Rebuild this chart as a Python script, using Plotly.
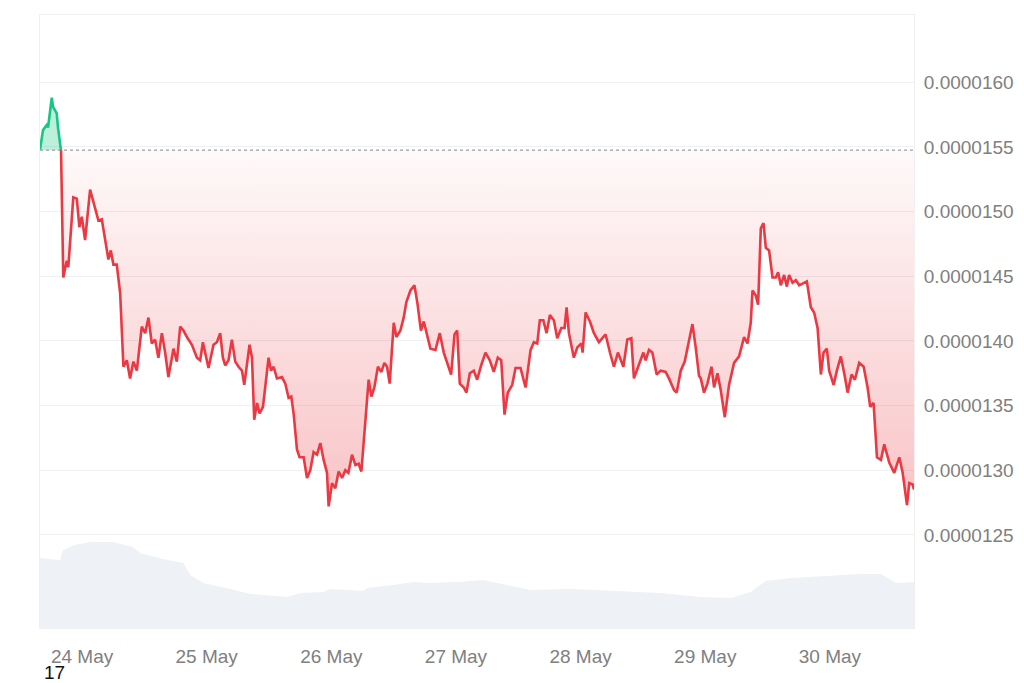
import plotly.graph_objects as go
import pandas as pd

# ---------------- data ----------------
times = [
    "2024-05-23 15:54", "2024-05-23 16:29", "2024-05-23 17:12", "2024-05-23 17:27", "2024-05-23 18:10",
    "2024-05-23 18:25", "2024-05-23 19:07", "2024-05-23 19:22", "2024-05-23 19:57", "2024-05-23 20:23",
    "2024-05-23 21:03", "2024-05-23 21:21", "2024-05-23 22:19", "2024-05-23 22:59", "2024-05-23 23:29",
    "2024-05-23 23:57", "2024-05-24 00:35", "2024-05-24 01:33", "2024-05-24 02:11", "2024-05-24 03:09",
    "2024-05-24 03:48", "2024-05-24 04:26", "2024-05-24 05:04", "2024-05-24 05:32", "2024-05-24 06:02",
    "2024-05-24 06:41", "2024-05-24 07:20", "2024-05-24 07:58", "2024-05-24 08:37", "2024-05-24 09:15",
    "2024-05-24 09:53", "2024-05-24 10:33", "2024-05-24 11:30", "2024-05-24 12:09", "2024-05-24 12:47",
    "2024-05-24 13:26", "2024-05-24 14:04", "2024-05-24 14:42", "2024-05-24 15:22", "2024-05-24 16:00",
    "2024-05-24 16:38", "2024-05-24 17:36", "2024-05-24 18:15", "2024-05-24 18:54", "2024-05-24 19:32",
    "2024-05-24 20:11", "2024-05-24 21:09", "2024-05-24 22:07", "2024-05-24 22:45", "2024-05-24 23:16",
    "2024-05-24 23:43", "2024-05-25 00:21", "2024-05-25 01:19", "2024-05-25 01:58", "2024-05-25 02:36",
    "2024-05-25 03:07", "2024-05-25 03:34", "2024-05-25 04:12", "2024-05-25 04:51", "2024-05-25 05:30",
    "2024-05-25 06:08", "2024-05-25 06:47", "2024-05-25 07:14", "2024-05-25 07:45", "2024-05-25 08:15",
    "2024-05-25 08:43", "2024-05-25 09:09", "2024-05-25 09:41", "2024-05-25 10:11", "2024-05-25 10:50",
    "2024-05-25 11:17", "2024-05-25 11:55", "2024-05-25 12:23", "2024-05-25 12:53", "2024-05-25 13:32",
    "2024-05-25 14:30", "2024-05-25 15:08", "2024-05-25 15:46", "2024-05-25 16:17", "2024-05-25 16:44",
    "2024-05-25 17:23", "2024-05-25 17:53", "2024-05-25 18:40", "2024-05-25 19:19", "2024-05-25 19:57",
    "2024-05-25 20:35", "2024-05-25 21:15", "2024-05-25 21:53", "2024-05-25 22:31", "2024-05-25 23:10",
    "2024-05-25 23:29", "2024-05-26 00:08", "2024-05-26 00:46", "2024-05-26 01:24", "2024-05-26 02:04",
    "2024-05-26 02:42", "2024-05-26 03:17", "2024-05-26 03:59", "2024-05-26 04:38", "2024-05-26 05:16",
    "2024-05-26 05:47", "2024-05-26 06:14", "2024-05-26 06:33", "2024-05-26 07:11", "2024-05-26 07:43",
    "2024-05-26 08:17", "2024-05-26 08:58", "2024-05-26 09:38", "2024-05-26 10:13", "2024-05-26 10:44",
    "2024-05-26 11:14", "2024-05-26 12:01", "2024-05-26 12:32", "2024-05-26 13:18", "2024-05-26 13:56",
    "2024-05-26 14:27", "2024-05-26 15:14", "2024-05-26 16:00", "2024-05-26 16:35", "2024-05-26 17:15",
    "2024-05-26 17:48", "2024-05-26 18:27", "2024-05-26 19:05", "2024-05-26 20:03", "2024-05-26 20:53",
    "2024-05-26 21:39", "2024-05-26 22:18", "2024-05-26 23:04", "2024-05-26 23:43", "2024-05-27 00:14",
    "2024-05-27 00:44", "2024-05-27 01:30", "2024-05-27 02:01", "2024-05-27 02:40", "2024-05-27 03:26",
    "2024-05-27 04:05", "2024-05-27 04:51", "2024-05-27 05:41", "2024-05-27 06:31", "2024-05-27 07:17",
    "2024-05-27 08:03", "2024-05-27 08:43", "2024-05-27 09:21", "2024-05-27 09:59", "2024-05-27 10:50",
    "2024-05-27 11:28", "2024-05-27 12:26", "2024-05-27 13:24", "2024-05-27 14:22", "2024-05-27 15:00",
    "2024-05-27 15:39", "2024-05-27 16:09", "2024-05-27 16:49", "2024-05-27 17:27", "2024-05-27 18:05",
    "2024-05-27 18:51", "2024-05-27 19:30", "2024-05-27 20:17", "2024-05-27 20:55", "2024-05-27 21:18",
    "2024-05-27 21:45", "2024-05-27 22:42", "2024-05-27 23:22", "2024-05-28 00:08", "2024-05-28 00:23",
    "2024-05-28 00:58", "2024-05-28 01:48", "2024-05-28 02:34", "2024-05-28 03:32", "2024-05-28 04:49",
    "2024-05-28 05:39", "2024-05-28 06:25", "2024-05-28 07:11", "2024-05-28 08:14", "2024-05-28 09:00",
    "2024-05-28 09:46", "2024-05-28 10:16", "2024-05-28 11:14", "2024-05-28 12:05", "2024-05-28 12:32",
    "2024-05-28 13:10", "2024-05-28 13:49", "2024-05-28 14:39", "2024-05-28 15:25", "2024-05-28 16:23",
    "2024-05-28 17:01", "2024-05-28 17:59", "2024-05-28 18:30", "2024-05-28 19:17", "2024-05-28 20:03",
    "2024-05-28 20:41", "2024-05-28 21:32", "2024-05-28 22:10", "2024-05-28 22:48", "2024-05-28 23:08",
    "2024-05-28 23:46", "2024-05-29 00:25", "2024-05-29 01:12", "2024-05-29 01:42", "2024-05-29 02:21",
    "2024-05-29 02:59", "2024-05-29 03:46", "2024-05-29 04:35", "2024-05-29 05:33", "2024-05-29 06:31",
    "2024-05-29 07:29", "2024-05-29 08:08", "2024-05-29 08:46", "2024-05-29 09:06", "2024-05-29 09:44",
    "2024-05-29 10:11", "2024-05-29 10:42", "2024-05-29 11:13", "2024-05-29 11:40", "2024-05-29 12:18",
    "2024-05-29 12:57", "2024-05-29 13:35", "2024-05-29 14:02", "2024-05-29 14:33", "2024-05-29 15:11",
    "2024-05-29 15:43", "2024-05-29 16:09", "2024-05-29 16:49", "2024-05-29 17:27", "2024-05-29 18:05",
    "2024-05-29 18:56", "2024-05-29 19:34", "2024-05-29 20:20", "2024-05-29 20:58", "2024-05-29 21:38",
    "2024-05-29 22:16", "2024-05-29 22:47", "2024-05-29 23:25", "2024-05-29 23:52", "2024-05-30 00:43",
    "2024-05-30 01:21", "2024-05-30 02:07", "2024-05-30 02:54", "2024-05-30 03:25", "2024-05-30 04:11",
    "2024-05-30 04:49", "2024-05-30 05:39", "2024-05-30 06:30", "2024-05-30 07:16", "2024-05-30 07:46",
    "2024-05-30 08:25", "2024-05-30 09:04", "2024-05-30 09:50", "2024-05-30 10:28", "2024-05-30 11:26",
    "2024-05-30 12:24", "2024-05-30 13:22", "2024-05-30 14:01", "2024-05-30 14:51", "2024-05-30 15:17",
    "2024-05-30 15:57", "2024-05-30 16:12",
]

prices = [
    0.00001548, 0.00001563, 0.00001567, 0.00001565, 0.00001588,
    0.00001581, 0.00001576, 0.00001565, 0.00001547, 0.00001449,
    0.00001462, 0.00001457, 0.00001511, 0.00001510, 0.00001488,
    0.00001496, 0.00001478, 0.00001517, 0.00001508, 0.00001493,
    0.00001494, 0.00001478, 0.00001463, 0.00001470, 0.00001459,
    0.00001459, 0.00001437, 0.00001380, 0.00001385, 0.00001371,
    0.00001384, 0.00001377, 0.00001411, 0.00001406, 0.00001418,
    0.00001398, 0.00001401, 0.00001387, 0.00001406, 0.00001391,
    0.00001372, 0.00001394, 0.00001384, 0.00001411, 0.00001408,
    0.00001403, 0.00001397, 0.00001387, 0.00001385, 0.00001399,
    0.00001391, 0.00001379, 0.00001397, 0.00001399, 0.00001406,
    0.00001387, 0.00001381, 0.00001385, 0.00001401, 0.00001384,
    0.00001380, 0.00001377, 0.00001366, 0.00001384, 0.00001397,
    0.00001387, 0.00001339, 0.00001352, 0.00001344, 0.00001349,
    0.00001364, 0.00001387, 0.00001377, 0.00001380, 0.00001371,
    0.00001372, 0.00001367, 0.00001356, 0.00001357, 0.00001344,
    0.00001316, 0.00001310, 0.00001310, 0.00001294, 0.00001300,
    0.00001314, 0.00001312, 0.00001321, 0.00001308, 0.00001298,
    0.00001272, 0.00001290, 0.00001286, 0.00001299, 0.00001294,
    0.00001300, 0.00001298, 0.00001312, 0.00001304, 0.00001305,
    0.00001299, 0.00001321, 0.00001339, 0.00001370, 0.00001357,
    0.00001364, 0.00001380, 0.00001376, 0.00001383, 0.00001380,
    0.00001367, 0.00001414, 0.00001403, 0.00001408, 0.00001418,
    0.00001430, 0.00001439, 0.00001443, 0.00001429, 0.00001408,
    0.00001415, 0.00001403, 0.00001394, 0.00001393, 0.00001406,
    0.00001391, 0.00001383, 0.00001374, 0.00001405, 0.00001408,
    0.00001367, 0.00001364, 0.00001360, 0.00001375, 0.00001377,
    0.00001370, 0.00001381, 0.00001391, 0.00001385, 0.00001376,
    0.00001387, 0.00001385, 0.00001343, 0.00001360, 0.00001366,
    0.00001379, 0.00001379, 0.00001364, 0.00001393, 0.00001399,
    0.00001398, 0.00001416, 0.00001416, 0.00001406, 0.00001420,
    0.00001416, 0.00001402, 0.00001410, 0.00001410, 0.00001426,
    0.00001406, 0.00001387, 0.00001395, 0.00001398, 0.00001391,
    0.00001422, 0.00001415, 0.00001406, 0.00001399, 0.00001405,
    0.00001391, 0.00001380, 0.00001391, 0.00001380, 0.00001401,
    0.00001402, 0.00001371, 0.00001381, 0.00001391, 0.00001385,
    0.00001393, 0.00001391, 0.00001374, 0.00001377, 0.00001376,
    0.00001371, 0.00001362, 0.00001360, 0.00001377, 0.00001384,
    0.00001397, 0.00001413, 0.00001395, 0.00001373, 0.00001371,
    0.00001360, 0.00001367, 0.00001380, 0.00001364, 0.00001375,
    0.00001362, 0.00001341, 0.00001366, 0.00001383, 0.00001388,
    0.00001403, 0.00001398, 0.00001414, 0.00001439, 0.00001435,
    0.00001428, 0.00001487, 0.00001491, 0.00001472, 0.00001470,
    0.00001449, 0.00001449, 0.00001453, 0.00001443, 0.00001451,
    0.00001442, 0.00001451, 0.00001445, 0.00001447, 0.00001443,
    0.00001445, 0.00001446, 0.00001426, 0.00001422, 0.00001410,
    0.00001374, 0.00001391, 0.00001394, 0.00001377, 0.00001366,
    0.00001377, 0.00001388, 0.00001372, 0.00001360, 0.00001374,
    0.00001370, 0.00001383, 0.00001380, 0.00001364, 0.00001349,
    0.00001352, 0.00001310, 0.00001308, 0.00001320, 0.00001306,
    0.00001298, 0.00001310, 0.00001298, 0.00001273, 0.00001290,
    0.00001289, 0.00001285,
]

baseline_price = 0.000015475

vol_times = [
    "2024-05-23 15:54", "2024-05-23 19:46", "2024-05-23 20:20", "2024-05-23 22:39", "2024-05-24 01:33",
    "2024-05-24 05:58", "2024-05-24 09:50", "2024-05-24 11:11", "2024-05-24 15:37", "2024-05-24 19:28",
    "2024-05-24 20:49", "2024-05-24 23:20", "2024-05-25 04:32", "2024-05-25 08:23", "2024-05-25 15:31",
    "2024-05-25 18:01", "2024-05-25 22:27", "2024-05-25 23:48", "2024-05-26 06:10", "2024-05-26 06:56",
    "2024-05-26 11:57", "2024-05-26 15:48", "2024-05-26 19:05", "2024-05-27 00:17", "2024-05-27 05:18",
    "2024-05-27 08:00", "2024-05-27 14:22", "2024-05-27 22:04", "2024-05-28 07:43", "2024-05-28 15:25",
    "2024-05-28 23:08", "2024-05-29 04:55", "2024-05-29 08:46", "2024-05-29 11:40", "2024-05-29 16:29",
    "2024-05-30 00:12", "2024-05-30 05:58", "2024-05-30 09:50", "2024-05-30 12:43", "2024-05-30 16:12",
]
volumes = [
    70, 68, 78, 83, 86, 86, 81, 75, 69, 65,
    53, 45, 39, 34, 31, 35, 36, 39, 37, 40,
    43, 46, 45, 46, 48, 45, 38, 39, 37, 35,
    31, 30, 36, 47, 50, 52, 54, 54, 45, 46,
]

tick_dates = ["2024-05-24", "2024-05-25", "2024-05-26", "2024-05-27",
              "2024-05-28", "2024-05-29", "2024-05-30"]
tick_labels = ["24 May", "25 May", "26 May", "27 May", "28 May", "29 May", "30 May"]

price_ticks = [0.0000125, 0.0000130, 0.0000135, 0.0000140,
               0.0000145, 0.0000150, 0.0000155, 0.0000160]
price_tick_text = ["0.0000125", "0.0000130", "0.0000135", "0.0000140",
                   "0.0000145", "0.0000150", "0.0000155", "0.0000160"]

x_range = ["2024-05-23 15:54", "2024-05-30 16:12"]
y_range = [0.00001178, 0.00001652]

RED = "#ea3943"
GREEN = "#16c784"
FONT = "Liberation Sans, Arial, sans-serif"

# ------------- insert baseline crossing points for clean colouring -------------
t = pd.to_datetime(pd.Series(times))
aug_t, aug_p = [], []
for i in range(len(prices)):
    if i > 0:
        p0, p1 = prices[i - 1], prices[i]
        if (p0 - baseline_price) * (p1 - baseline_price) < 0:
            frac = (baseline_price - p0) / (p1 - p0)
            tc = t[i - 1] + (t[i] - t[i - 1]) * frac
            aug_t.append(tc)
            aug_p.append(baseline_price)
    aug_t.append(t[i])
    aug_p.append(prices[i])

below = [min(p, baseline_price) for p in aug_p]
above = [max(p, baseline_price) for p in aug_p]
base = [baseline_price] * len(aug_p)
green_line = [p if p >= baseline_price else None for p in aug_p]
red_line = [p if p <= baseline_price else None for p in aug_p]

fig = go.Figure()

# volume area (separate hidden axis)
fig.add_trace(go.Scatter(
    x=pd.to_datetime(pd.Series(vol_times)), y=volumes, yaxis="y2",
    mode="lines", line=dict(width=0, color="#eef1f5"),
    fill="tozeroy", fillcolor="#eef1f5", hoverinfo="skip", showlegend=False,
))

# red gradient fill between price and baseline
fig.add_trace(go.Scatter(x=aug_t, y=base, mode="lines", line=dict(width=0),
                         hoverinfo="skip", showlegend=False))
fig.add_trace(go.Scatter(
    x=aug_t, y=below, mode="lines", line=dict(width=0), fill="tonexty",
    fillgradient=dict(type="vertical", start=min(prices), stop=baseline_price,
                      colorscale=[[0, "rgba(234,57,67,0.30)"],
                                  [1, "rgba(234,57,67,0.03)"]]),
    hoverinfo="skip", showlegend=False,
))
# green fill
fig.add_trace(go.Scatter(x=aug_t, y=base, mode="lines", line=dict(width=0),
                         hoverinfo="skip", showlegend=False))
fig.add_trace(go.Scatter(
    x=aug_t, y=above, mode="lines", line=dict(width=0), fill="tonexty",
    fillcolor="rgba(22,199,132,0.28)", hoverinfo="skip", showlegend=False,
))

# dotted baseline
fig.add_trace(go.Scatter(
    x=x_range, y=[baseline_price, baseline_price], mode="lines",
    line=dict(color="#9aa0a8", width=1.3, dash="dot"),
    hoverinfo="skip", showlegend=False,
))

# price lines
fig.add_trace(go.Scatter(x=aug_t, y=red_line, mode="lines",
                         line=dict(color=RED, width=2.6), showlegend=False,
                         connectgaps=False))
fig.add_trace(go.Scatter(x=aug_t, y=green_line, mode="lines",
                         line=dict(color=GREEN, width=2.6), showlegend=False,
                         connectgaps=False))

# the page body keeps its default 8px margin, so the figure is sized to fill
# the rest of the 1024x683 window
fig.update_layout(
    width=1016, height=675,
    margin=dict(l=32, r=110, t=7, b=55),
    paper_bgcolor="white", plot_bgcolor="white",
    font=dict(family=FONT, size=19, color="#808080"),
    showlegend=False,
    xaxis=dict(
        range=x_range, tickvals=tick_dates, ticktext=tick_labels,
        showgrid=False, zeroline=False,
        ticks="outside", ticklen=11, tickcolor="rgba(0,0,0,0)",
        showline=True, linecolor="#f0f0f0", linewidth=1, mirror=True,
        tickfont=dict(size=19, color="#808080"),
    ),
    yaxis=dict(
        side="right", range=y_range, tickvals=price_ticks, ticktext=price_tick_text,
        showgrid=True, gridcolor="#eef0f2", gridwidth=1, zeroline=False,
        ticks="outside", ticklen=5, tickcolor="rgba(0,0,0,0)",
        showline=True, linecolor="#f0f0f0", linewidth=1, mirror=True,
        tickfont=dict(size=19, color="#808080"),
    ),
    yaxis2=dict(
        overlaying="y", range=[0, max(volumes) * 7.13], visible=False,
        showgrid=False, zeroline=False,
    ),
    annotations=[dict(
        text="17", xref="paper", yref="paper", x=0.002, y=-0.072,
        xanchor="left", yanchor="middle", showarrow=False,
        font=dict(family=FONT, size=19, color="#111111"),
    )],
)

fig.write_html("out.html")
